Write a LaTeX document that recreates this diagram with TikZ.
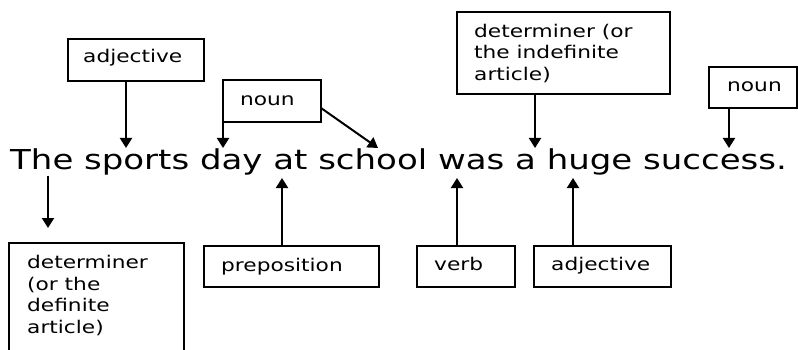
\documentclass[tikz,border=0pt]{standalone}
\usepackage{fontspec}
\setmainfont{DejaVu Sans}[FakeStretch=1.24]
\usetikzlibrary{arrows.meta}
\begin{document}
\begin{tikzpicture}[x=1pt,y=-1pt,
  box/.style={draw, line width=1.4pt, inner sep=0pt, outer sep=0pt, anchor=north west},
  lbl/.style={anchor=base west, inner sep=0pt, align=left, font=\fontsize{17.5}{21.5}\selectfont},
  arr/.style={line width=2pt, -{Triangle[length=10pt,width=12pt]}}]
\useasboundingbox (0,0) rectangle (798,350);
\clip (0,0) rectangle (798,350);
% sentence
\node[anchor=base west, inner sep=0pt, font=\fontsize{27.4}{30}\selectfont] (sent) at (10,170) {The sports day at school was a huge success.};
% boxes
\node[box, minimum width=136pt, minimum height=42pt] (adjA) at (68,39) {};
\node[box, minimum width=98pt, minimum height=42pt] (nounA) at (223,80) {};
\node[box, minimum width=213pt, minimum height=82pt] (detA) at (457,12) {};
\node[box, minimum width=88pt, minimum height=41pt] (nounB) at (709,67) {};
\node[box, minimum width=175pt, minimum height=130pt] (detB) at (9,243) {};
\node[box, minimum width=175pt, minimum height=41pt] (prep) at (204,246) {};
\node[box, minimum width=98pt, minimum height=41pt] (verb) at (417,246) {};
\node[box, minimum width=137pt, minimum height=41pt] (adjB) at (534,246) {};
% labels (base anchor = baseline of last line)
\node[lbl] (adjAt) at (83,63) {adjective};
\node[lbl] (nounAt) at (240,106) {noun};
\node[lbl] (detAt) at (474,80.5) {determiner (or\\the indefinite\\article)};
\node[lbl] (nounBt) at (727,92) {noun};
\node[lbl] (detBt) at (27,333) {determiner\\(or the\\definite\\article)};
\node[lbl] (prept) at (221,271) {preposition};
\node[lbl] (verbt) at (434,270) {verb};
\node[lbl] (adjBt) at (551,270) {adjective};
% arrow targets
\coordinate (t1) at (126,148);
\coordinate (t2) at (224,148);
\coordinate (c3) at (321,108);
\coordinate (t3) at (378,148);
\coordinate (t4) at (535,148);
\coordinate (t5) at (729,148);
\coordinate (s6) at (48,176);
\coordinate (t6) at (48,228);
\coordinate (t7) at (282,178);
\coordinate (t8) at (457,178);
\coordinate (t9) at (573,178);
% arrows
\draw[arr] (adjA.south -| t1) -- (t1);
\draw[arr] (nounA.south west) -- (nounA.south west |- t2);
\draw[arr] (nounA.east |- c3) -- (t3);
\draw[arr] (detA.south -| t4) -- (t4);
\draw[arr] (nounB.south -| t5) -- (t5);
\draw[arr] (s6) -- (t6);
\draw[arr] (prep.north -| t7) -- (t7);
\draw[arr] (verb.north -| t8) -- (t8);
\draw[arr] (adjB.north -| t9) -- (t9);
\end{tikzpicture}
\end{document}
